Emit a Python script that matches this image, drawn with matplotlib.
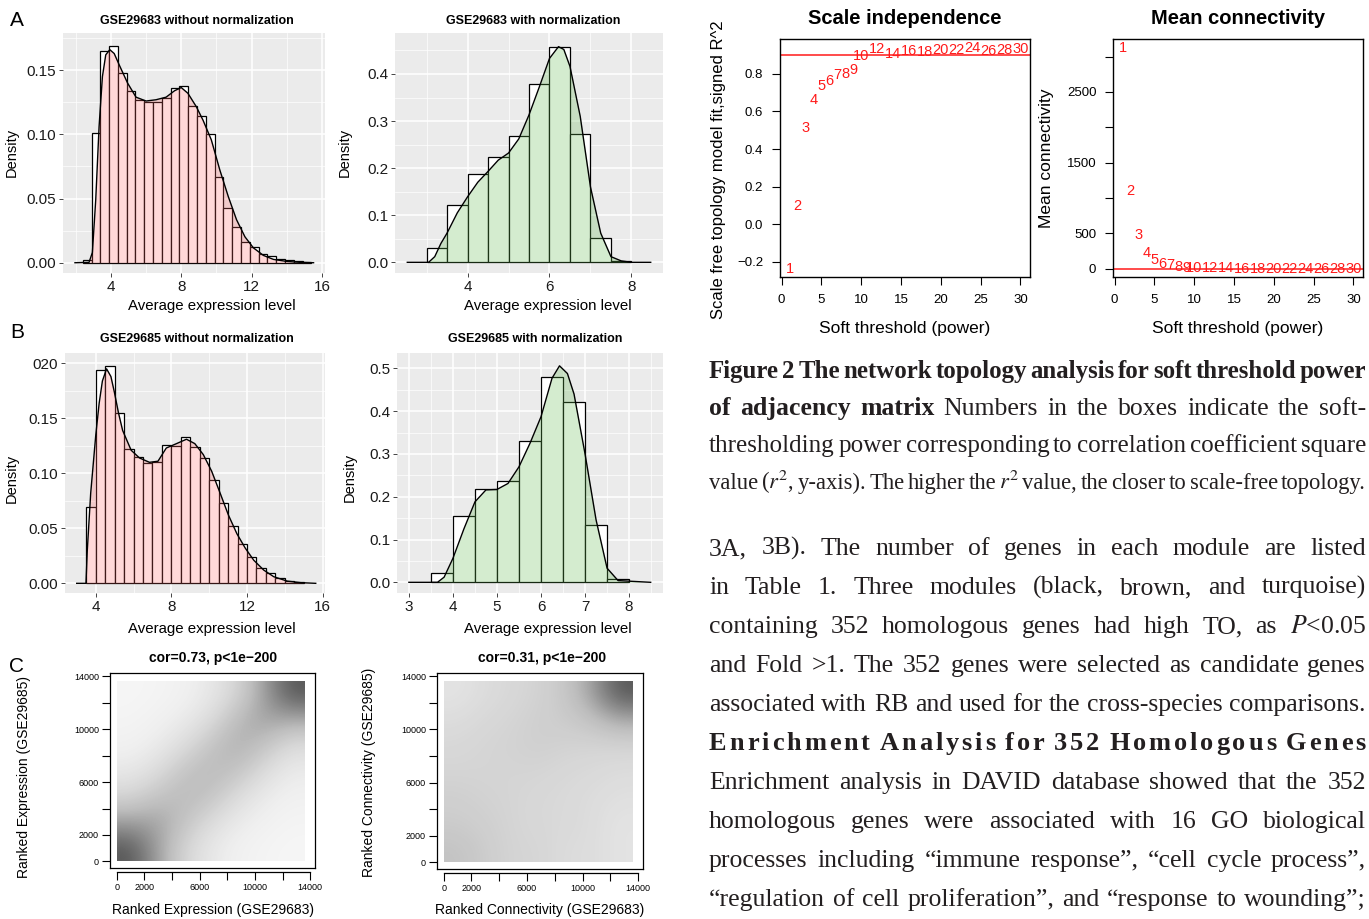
import numpy as np
import matplotlib
matplotlib.use('Agg')
import matplotlib.pyplot as plt

plt.rcParams['font.family'] = ['Liberation Sans', 'DejaVu Sans']
plt.rcParams['mathtext.fontset'] = 'stix'

W, H = 1369, 919

# ---------------- data ----------------
# A: GSE29683 without normalization (bins of 0.5)
a1_edges = np.arange(2.4, 15.4, 0.5)
a1_bars = [0.002, 0.101, 0.165, 0.169, 0.148, 0.134, 0.127, 0.125, 0.125, 0.128,
           0.136, 0.138, 0.122, 0.114, 0.100, 0.067, 0.043, 0.028, 0.016, 0.012,
           0.007, 0.005, 0.003, 0.002, 0.001, 0.0005]
a1_kde_x = [1.96, 2.76, 2.95, 3.14, 3.33, 3.52, 3.71, 3.94, 4.19, 4.48, 4.95, 5.43,
            6.0, 6.57, 7.14, 7.62, 8.0, 8.38, 8.86, 9.24, 9.71, 10.19, 10.67, 11.14,
            11.62, 12.1, 12.67, 13.24, 14.0, 14.76, 15.52]
a1_kde_y = [0, 0.0003, 0.008, 0.049, 0.106, 0.145, 0.162, 0.166, 0.163, 0.154, 0.140,
            0.129, 0.126, 0.127, 0.129, 0.134, 0.1365, 0.132, 0.1215, 0.111, 0.0957,
            0.0724, 0.0517, 0.0336, 0.0202, 0.0116, 0.0057, 0.0026, 0.001, 0.0003, 0]

# A: GSE29683 with normalization
a2_edges = np.arange(3.0, 8.0, 0.5)
a2_bars = [0.030, 0.122, 0.188, 0.223, 0.268, 0.378, 0.458, 0.273, 0.052, 0.003]
a2_kde_x = [2.53, 3.05, 3.2, 3.35, 3.5, 3.75, 4.0, 4.25, 4.5, 4.75, 5.0, 5.25, 5.5,
            5.75, 6.0, 6.22, 6.35, 6.5, 6.75, 7.0, 7.25, 7.5, 7.75, 8.0, 8.47]
a2_kde_y = [0, 0, 0.012, 0.04, 0.062, 0.105, 0.139, 0.17, 0.193, 0.217, 0.232, 0.262,
            0.313, 0.372, 0.433, 0.458, 0.452, 0.416, 0.31, 0.16, 0.062, 0.012, 0.003, 0, 0]

# B: GSE29685 without normalization
b1_edges = np.arange(3.5, 15.0, 0.5)
b1_bars = [0.0697, 0.194, 0.1976, 0.155, 0.122, 0.115, 0.109, 0.110, 0.126, 0.125,
           0.133, 0.124, 0.114, 0.094, 0.073, 0.052, 0.036, 0.024, 0.014, 0.0097,
           0.005, 0.002, 0.001]
b1_kde_x = [2.99, 3.48, 3.55, 3.73, 4.0, 4.18, 4.35, 4.57, 4.8, 4.98, 5.2, 5.42, 5.87,
            6.31, 6.84, 7.29, 7.73, 8.27, 8.8, 9.24, 9.69, 10.13, 10.58, 11.02, 11.47,
            11.91, 12.36, 12.89, 13.42, 14.13, 14.84, 15.64]
b1_kde_y = [0, 0, 0.03, 0.082, 0.135, 0.164, 0.184, 0.195, 0.188, 0.174, 0.155, 0.139,
            0.121, 0.114, 0.110, 0.111, 0.123, 0.127, 0.131, 0.127, 0.117, 0.102, 0.082,
            0.062, 0.045, 0.032, 0.021, 0.012, 0.006, 0.002, 0.0006, 0]

# B: GSE29685 with normalization
b2_edges = np.arange(3.5, 8.0, 0.5)
b2_bars = [0.021, 0.155, 0.217, 0.237, 0.331, 0.479, 0.421, 0.134, 0.007]
b2_kde_x = [3.0, 3.65, 3.8, 4.0, 4.25, 4.5, 4.75, 5.0, 5.25, 5.5, 5.75, 6.0, 6.25,
            6.42, 6.6, 6.75, 7.0, 7.25, 7.5, 7.75, 8.49]
b2_kde_y = [0, 0, 0.012, 0.056, 0.125, 0.188, 0.216, 0.217, 0.231, 0.27, 0.325, 0.387,
            0.477, 0.506, 0.488, 0.44, 0.30, 0.146, 0.033, 0.004, 0]

# soft threshold analysis
powers = [1, 2, 3, 4, 5, 6, 7, 8, 9, 10, 12, 14, 16, 18, 20, 22, 24, 26, 28, 30]
sft_r2 = [-0.236, 0.097, 0.51, 0.661, 0.736, 0.763, 0.795, 0.80, 0.818, 0.896,
          0.931, 0.907, 0.919, 0.914, 0.928, 0.928, 0.937, 0.919, 0.928, 0.933]
mean_k = [3120, 1097, 473, 227, 128, 71, 47, 24, 14, 9,
          4, 2, 1, 1, 0.5, 0.3, 0.2, 0.1, 0.1, 0.1]

# C: point density of the rank scatter plots (7x7 cells of ~2000 ranks, rows bottom->top)
expr_density = [
    [0.95, 0.60, 0.35, 0.22, 0.15, 0.12, 0.10],
    [0.60, 0.60, 0.45, 0.30, 0.20, 0.15, 0.12],
    [0.35, 0.45, 0.50, 0.45, 0.30, 0.20, 0.15],
    [0.22, 0.30, 0.45, 0.50, 0.45, 0.30, 0.20],
    [0.15, 0.20, 0.30, 0.45, 0.55, 0.45, 0.30],
    [0.12, 0.15, 0.20, 0.30, 0.50, 0.60, 0.55],
    [0.10, 0.12, 0.15, 0.22, 0.35, 0.60, 0.95],
]
conn_density = [
    [0.45, 0.40, 0.35, 0.35, 0.30, 0.30, 0.25],
    [0.40, 0.38, 0.35, 0.33, 0.32, 0.30, 0.25],
    [0.38, 0.36, 0.35, 0.33, 0.32, 0.30, 0.28],
    [0.35, 0.35, 0.35, 0.35, 0.33, 0.32, 0.30],
    [0.33, 0.35, 0.36, 0.38, 0.36, 0.35, 0.35],
    [0.30, 0.33, 0.35, 0.38, 0.40, 0.45, 0.55],
    [0.25, 0.30, 0.33, 0.36, 0.42, 0.60, 0.95],
]
rank_ticks = [0, 2000, 4000, 6000, 8000, 10000, 12000, 14000]
rank_labels = ['0', '2000', '', '6000', '', '10000', '', '14000']

fig = plt.figure(figsize=(W / 100, H / 100), dpi=100)


def px_axes(l, t, r, b):
    return fig.add_axes([l / W, 1 - b / H, (r - l) / W, (b - t) / H])


def ftext(x, y, s, **kw):
    return fig.text(x / W, 1 - y / H, s, **kw)


def hist_panel(box, edges, bars, kx, ky, fill, alpha, xlim, ylim,
               xmaj, xmin, ymaj, ymin, ylabels, title, tpos, xlpos, ylpos):
    ax = px_axes(*box)
    ax.set_facecolor('#EBEBEB')
    for v in xmin:
        ax.axvline(v, color='white', lw=0.5, zorder=0)
    for v in ymin:
        ax.axhline(v, color='white', lw=0.5, zorder=0)
    for v in xmaj:
        ax.axvline(v, color='white', lw=1.1, zorder=0)
    for v in ymaj:
        ax.axhline(v, color='white', lw=1.1, zorder=0)
    ax.bar(edges, bars, width=0.5, align='edge', color='white',
           edgecolor='black', lw=0.9, zorder=2)
    ax.fill_between(kx, ky, color=fill, alpha=alpha, lw=0, zorder=3)
    ax.plot(kx, ky, color='black', lw=1.0, zorder=4)
    ax.set_xlim(*xlim)
    ax.set_ylim(*ylim)
    ax.set_xticks(xmaj)
    ax.set_xticklabels([str(v) for v in xmaj])
    ax.set_yticks(ymaj)
    ax.set_yticklabels(ylabels)
    ax.tick_params(length=3, width=0.7, color='#444444', labelsize=11,
                   labelcolor='#1a1a1a', pad=2)
    for s in ax.spines.values():
        s.set_visible(False)
    ftext(*tpos, title, ha='center', va='center', fontsize=9, fontweight='bold')
    ftext(*xlpos, 'Average expression level', ha='center', va='center', fontsize=10.8)
    ftext(*ylpos, 'Density', ha='center', va='center', fontsize=10.5, rotation=90)
    return ax


hist_panel((63, 33, 325, 273), a1_edges, a1_bars, a1_kde_x, a1_kde_y, '#FF6666', 0.25,
           (1.28, 16.17), (-0.008, 0.179), [4, 8, 12, 16], [2, 6, 10, 14],
           [0, 0.05, 0.10, 0.15], [0.025, 0.075, 0.125, 0.175],
           ['0.00', '0.05', '0.10', '0.15'], 'GSE29683 without normalization',
           (197, 21), (212, 306), (12, 152))
hist_panel((395, 33, 663, 273), a2_edges, a2_bars, a2_kde_x, a2_kde_y, '#66BB55', 0.28,
           (2.23, 8.77), (-0.0227, 0.487), [4, 6, 8], [3, 5, 7],
           [0, 0.1, 0.2, 0.3, 0.4], [0.05, 0.15, 0.25, 0.35, 0.45],
           ['0.0', '0.1', '0.2', '0.3', '0.4'], 'GSE29683 with normalization',
           (533, 21), (548, 306), (345, 152))
hist_panel((65, 353, 325, 593), b1_edges, b1_bars, b1_kde_x, b1_kde_y, '#FF6666', 0.25,
           (2.37, 16.13), (-0.0088, 0.2094), [4, 8, 12, 16], [6, 10, 14],
           [0, 0.05, 0.10, 0.15, 0.20], [0.025, 0.075, 0.125, 0.175],
           ['0.00', '0.05', '0.10', '0.15', '020'], 'GSE29685 without normalization',
           (197, 339), (212, 629), (12, 478))
hist_panel((397, 353, 663, 593), b2_edges, b2_bars, b2_kde_x, b2_kde_y, '#66BB55', 0.28,
           (2.73, 8.77), (-0.025, 0.536), [3, 4, 5, 6, 7, 8], [3.5, 4.5, 5.5, 6.5, 7.5, 8.5],
           [0, 0.1, 0.2, 0.3, 0.4, 0.5], [0.05, 0.15, 0.25, 0.35, 0.45],
           ['0.0', '0.1', '0.2', '0.3', '0.4', '0.5'], 'GSE29685 with normalization',
           (535, 339), (548, 629), (350, 477))

for letter, y in [('A', 21), ('B', 332), ('C', 666)]:
    ftext(17, y, letter, ha='center', va='center', fontsize=15)


# ---------------- soft threshold plots ----------------
def base_box(ax):
    for s in ax.spines.values():
        s.set_linewidth(1.0)
    ax.tick_params(direction='out', length=6, width=0.8, labelsize=9.5, pad=6)


ax = px_axes(780, 39, 1030, 277)
for p, v in zip(powers, sft_r2):
    ax.text(p, v, str(p), color='#FF1A1A', ha='center', va='center', fontsize=10.5)
ax.axhline(0.9, color='#FF1A1A', lw=1.1)
ax.set_xlim(-0.2, 31.2)
ax.set_ylim(-0.28, 0.985)
ax.set_xticks([0, 5, 10, 15, 20, 25, 30])
ax.set_yticks([-0.2, 0.0, 0.2, 0.4, 0.6, 0.8])
ax.set_yticklabels(['\u22120.2', '0.0', '0.2', '0.4', '0.6', '0.8'])
base_box(ax)
ftext(905, 18, 'Scale independence', ha='center', va='center', fontsize=14.5, fontweight='bold')
ftext(905, 328, 'Soft threshold (power)', ha='center', va='center', fontsize=12.5)
ftext(719, 170, 'Scale free topology model fit,signed R^2', ha='center', va='center',
      fontsize=12, rotation=90)

ax = px_axes(1113, 39, 1363, 277)
for p, v in zip(powers, mean_k):
    ax.text(p, v, str(p), color='#FF1A1A', ha='center', va='center', fontsize=10.5)
ax.axhline(0, color='#FF1A1A', lw=1.1)
ax.set_xlim(-0.2, 31.2)
ax.set_ylim(-119, 3248)
ax.set_xticks([0, 5, 10, 15, 20, 25, 30])
ax.set_yticks([0, 500, 1000, 1500, 2000, 2500, 3000])
ax.set_yticklabels(['0', '500', '', '1500', '', '2500', ''])
base_box(ax)
ftext(1238, 18, 'Mean connectivity', ha='center', va='center', fontsize=14.5, fontweight='bold')
ftext(1238, 328, 'Soft threshold (power)', ha='center', va='center', fontsize=12.5)
ftext(1047, 158, 'Mean connectivity', ha='center', va='center', fontsize=12.5, rotation=90)


# ---------------- rank scatter plots ----------------
def rank_panel(box, dens, title, tpos, xlab, xlpos, ylab, ylpos):
    ax = px_axes(*box)
    ax.imshow(np.array(dens), origin='lower', extent=[0, 13600, 0, 13600], cmap='Greys',
              vmin=0, vmax=1.3, interpolation='bicubic', aspect='auto', zorder=1)
    ax.set_xlim(-480, 14350)
    ax.set_ylim(-500, 14250)
    ax.set_xticks(rank_ticks)
    ax.set_xticklabels(rank_labels)
    ax.set_yticks(rank_ticks)
    ax.set_yticklabels(rank_labels)
    ax.spines['bottom'].set_position(('outward', 3))
    ax.spines['bottom'].set_bounds(0, 14000)
    ax.plot([0, 1], [0, 0], transform=ax.transAxes, color='black', lw=0.9, clip_on=False)
    for s in ax.spines.values():
        s.set_linewidth(0.9)
    ax.tick_params(direction='out', length=6, width=0.8, labelsize=6.5, pad=2)
    ftext(*tpos, title, ha='center', va='center', fontsize=10, fontweight='bold')
    ftext(*xlpos, xlab, ha='center', va='center', fontsize=10)
    ftext(*ylpos, ylab, ha='center', va='center', fontsize=10, rotation=90)


rank_panel((110, 673, 315, 868), expr_density, 'cor=0.73, p<1e\u2212200', (213, 658),
           'Ranked Expression (GSE29683)', (213, 910),
           'Ranked Expression (GSE29685)', (24, 777))
rank_panel((437, 673, 643, 869), conn_density, 'cor=0.31, p<1e\u2212200', (542, 658),
           'Ranked Connectivity (GSE29683)', (540, 910),
           'Ranked Connectivity (GSE29685)', (369, 772))

# ---------------- text column ----------------
renderer = fig.canvas.get_renderer()
SERIF = ['Liberation Serif', 'DejaVu Serif']
BASE = 18.5
X0, X1 = 709, 1366


def style(bold=False, size=BASE):
    kw = dict(family=SERIF, fontsize=size, color='#231F20')
    if bold:
        kw['fontweight'] = 'bold'
    return kw


def width_of(s, kw):
    t = fig.text(0, 0, s, **kw)
    w = t.get_window_extent(renderer).width
    t.remove()
    return w


def justify(tokens, y):
    # tokens: list of (word, bold); shrink the line until it fits with tight spaces
    size = BASE
    for _ in range(3):
        widths = [width_of(s, style(b, size)) for s, b in tokens]
        sp = width_of('a a', style(False, size)) - width_of('aa', style(False, size))
        natural = sum(widths) + 0.55 * sp * (len(tokens) - 1)
        if natural <= X1 - X0:
            break
        size *= (X1 - X0) / natural
    gap = (X1 - X0 - sum(widths)) / (len(tokens) - 1)
    x = X0
    for (s, b), w in zip(tokens, widths):
        ftext(x, y, s, ha='left', va='baseline', **style(b, size))
        x += w + gap


def words(line, bold=False):
    return [(w, bold) for w in line.split()]


caption = [
    words('Figure 2 The network topology analysis for soft threshold power', True),
    words('of adjacency matrix', True) + words('Numbers in the boxes indicate the soft-'),
    words('thresholding power corresponding to correlation coefficient square'),
    words('value ($r^2$, y-axis). The higher the $r^2$ value, the closer to scale-free topology.'),
]
for i, toks in enumerate(caption):
    justify(toks, 378 + 37 * i)

body = [
    '3A, 3B). The number of genes in each module are listed',
    'in Table 1. Three modules (black, brown, and turquoise)',
    'containing 352 homologous genes had high TO, as $P$<0.05',
    'and Fold >1. The 352 genes were selected as candidate genes',
    'associated with RB and used for the cross-species comparisons.',
    None,
    'Enrichment analysis in DAVID database showed that the 352',
    'homologous genes were associated with 16 GO biological',
    'processes including \u201cimmune response\u201d, \u201ccell cycle process\u201d,',
    '\u201cregulation of cell proliferation\u201d, and \u201cresponse to wounding\u201d;',
]
for i, line in enumerate(body):
    y = 555 + 39 * i
    if line is None:
        # letter-spaced bold heading
        head = 'Enrichment Analysis for 352 Homologous Genes'
        hk = style(True, 19)
        chars = [c for c in head if c != ' ']
        cw = [width_of(c, hk) for c in chars]
        sw = width_of('a a', hk) - width_of('aa', hk)
        n_words = len(head.split()) - 1
        n_gaps = len(chars) - 1
        g = (X1 - X0 - sum(cw) - n_words * sw) / n_gaps
        x = X0
        k = 0
        for c in head:
            if c == ' ':
                x += sw
                continue
            ftext(x, y, c, ha='left', va='baseline', **hk)
            x += cw[k] + g
            k += 1
        continue
    justify(words(line), y)

fig.savefig('out.png', dpi=100)
